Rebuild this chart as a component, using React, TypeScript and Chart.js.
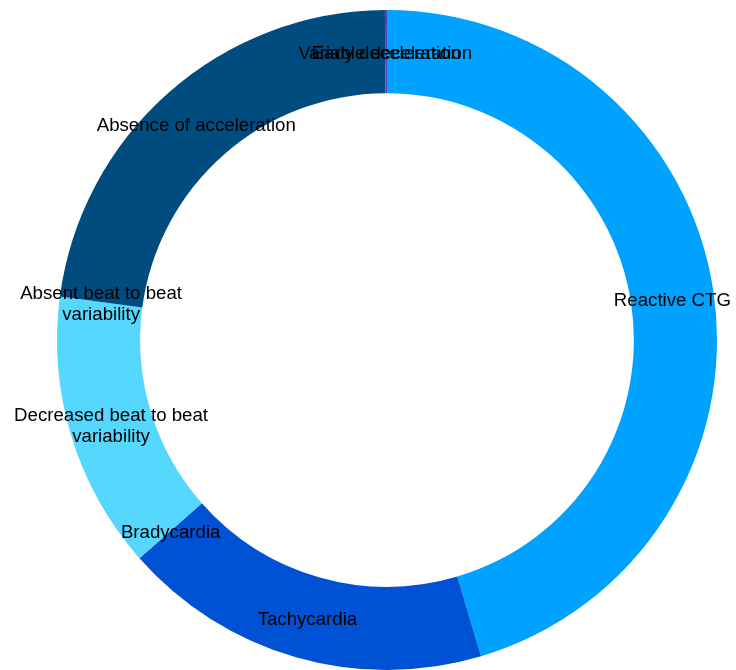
import React, { useEffect, useRef } from "react";
import { Chart, registerables } from "chart.js";

Chart.register(...registerables);

const categories: string[][] = [
  ["Reactive CTG"],
  ["Tachycardia"],
  ["Bradycardia"],
  ["Decreased beat to beat", "variability"],
  ["Absent beat to beat", "variability"],
  ["Absence of acceleration"],
  ["Variable deceleration"],
  ["Early deceleration"],
];

const values: number[] = [45.4, 18.1, 0, 13.6, 0, 22.8, 0, 0.1];

const colors: string[] = [
  "#00A2FF",
  "#0052D4",
  "#2E6FD8",
  "#55D7FE",
  "#2C8BC4",
  "#004C7F",
  "#8E44AD",
  "#5E3DB8",
];

const FONT_SIZE = 18.67;
const FONT_FAMILY = "'Liberation Sans', Arial, sans-serif";

const arcLabelPlugin = {
  id: "arcLabels",
  afterDatasetsDraw(chart: any) {
    const ctx = chart.ctx as CanvasRenderingContext2D;
    const meta = chart.getDatasetMeta(0);
    const labels = chart.data.labels as string[][];
    ctx.save();
    ctx.font = `${FONT_SIZE}px ${FONT_FAMILY}`;
    ctx.fillStyle = "#000";
    ctx.textAlign = "center";
    ctx.textBaseline = "middle";
    const lh = 21;
    const dy = 2.5;
    meta.data.forEach((arc: any, i: number) => {
      const p = arc.getCenterPoint();
      const lines = labels[i];
      const startY = p.y + dy - ((lines.length - 1) * lh) / 2;
      lines.forEach((line, j) => {
        ctx.fillText(line, p.x, startY + j * lh);
      });
    });
    ctx.restore();
  },
};

export default function App() {
  const canvasRef = useRef<HTMLCanvasElement | null>(null);

  useEffect(() => {
    if (!canvasRef.current) return;
    const chart = new Chart(canvasRef.current, {
      type: "doughnut",
      data: {
        labels: categories as any,
        datasets: [
          {
            data: values,
            backgroundColor: colors,
            borderWidth: 0,
          },
        ],
      },
      options: {
        animation: false,
        responsive: true,
        maintainAspectRatio: false,
        cutout: "74.8%",
        layout: { padding: { left: 57, right: 19, top: 10, bottom: 0 } },
        plugins: {
          legend: { display: false },
          tooltip: { enabled: false },
        },
      },
      plugins: [arcLabelPlugin],
    });
    return () => chart.destroy();
  }, []);

  return (
    <div
      style={{
        position: "absolute",
        left: 0,
        top: 0,
        width: 736,
        height: 670,
        background: "#fff",
      }}
    >
      <canvas ref={canvasRef} />
    </div>
  );
}
